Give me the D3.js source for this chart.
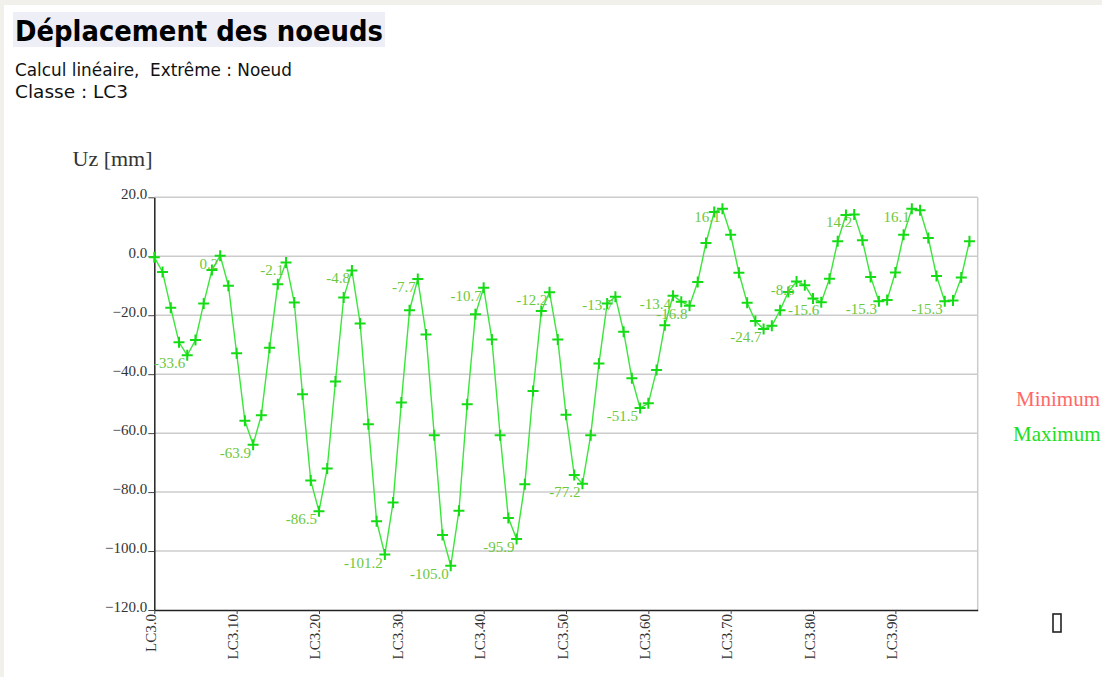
<!DOCTYPE html>
<html>
<head>
<meta charset="utf-8">
<script src="https://cdn.jsdelivr.net/npm/d3@7"></script>
<style>
  html, body { margin: 0; padding: 0; background: #f1f0ea; }
  svg { display: block; }
</style>
</head>
<body>
<svg id="chart" width="1102" height="677"></svg>
<script>
// Nodal displacement Uz [mm] per node of class LC3 (LC3.0 … LC3.99)
const nodeIndex = d3.range(100);
const uzMax = [
  -0.3, -5.3, -17.5, -29.2, -33.6, -28.4, -16.0, -4.7, 0.2, -10.0,
  -32.9, -55.8, -63.9, -53.9, -31.0, -9.5, -2.1, -15.7, -46.8, -76.1,
  -86.5, -72.0, -42.5, -14.0, -4.8, -22.8, -57.0, -89.9, -101.2, -83.5,
  -49.6, -18.3, -7.7, -26.5, -60.7, -94.6, -105.0, -86.3, -50.2, -19.7,
  -10.7, -28.2, -60.7, -88.8, -95.9, -77.3, -45.7, -18.6, -12.2, -28.2,
  -53.8, -74.2, -77.2, -60.7, -36.4, -16.0, -13.7, -25.6, -41.4, -51.5,
  -49.9, -38.6, -23.4, -13.4, -15.4, -16.8, -8.7, 4.5, 15.0, 16.1,
  7.3, -5.6, -15.8, -22.0, -24.7, -23.6, -18.3, -12.1, -8.6, -9.8,
  -14.3, -15.6, -7.6, 5.1, 14.0, 14.2, 5.4, -7.0, -15.3, -14.8,
  -5.5, 7.3, 16.1, 15.6, 6.2, -6.7, -15.3, -15.0, -7.2, 5.1
];
const yTicks = [20, 0, -20, -40, -60, -80, -100, -120];
const xTicks = d3.range(0, 100, 10);
const xTickLabel = i => "LC3." + i;
const legendItems = [
  { name: "Minimum", color: "#ff6868" },
  { name: "Maximum", color: "#22dd22" }
];

const svg = d3.select("#chart");
const serif = "'Liberation Serif', 'Times New Roman', serif";
const sans = "'DejaVu Sans Condensed', 'DejaVu Sans', Verdana, sans-serif";

// page panel
svg.append("rect").attr("x", 4).attr("y", 5).attr("width", 1098).attr("height", 672).attr("fill", "#ffffff");

// header
svg.append("rect").attr("x", 13).attr("y", 12).attr("width", 372).attr("height", 35).attr("fill", "#eeeef7");
svg.append("text").attr("x", 15).attr("y", 40.5)
  .attr("font-family", sans).attr("font-weight", "bold").attr("font-size", 29)
  .attr("textLength", 368).attr("lengthAdjust", "spacingAndGlyphs")
  .attr("fill", "#000").text("Déplacement des noeuds");
svg.append("text").attr("x", 15).attr("y", 75.5)
  .attr("font-family", sans).attr("font-size", 17.5)
  .style("white-space", "pre")
  .attr("textLength", 277).attr("lengthAdjust", "spacingAndGlyphs")
  .attr("fill", "#111").text("Calcul linéaire,  Extrême : Noeud");
svg.append("text").attr("x", 15).attr("y", 97.5)
  .attr("font-family", sans).attr("font-size", 17.5).style("white-space", "pre")
  .attr("textLength", 113).attr("lengthAdjust", "spacingAndGlyphs")
  .attr("fill", "#111").text("Classe : LC3");

// scales
const x = d3.scaleLinear().domain([0, 100]).range([154.3, 977.7]);
const y = d3.scaleLinear().domain([-120, 20]).range([610, 197.3]);

// grid
const grid = svg.append("g");
grid.selectAll("line").data(yTicks.filter(v => v > -120)).join("line")
  .attr("x1", x(0)).attr("x2", x(100))
  .attr("y1", d => y(d)).attr("y2", d => y(d))
  .attr("stroke", "#cccccc").attr("stroke-width", 1.5);
grid.append("line").attr("x1", x(100)).attr("x2", x(100))
  .attr("y1", y(20)).attr("y2", y(-120))
  .attr("stroke", "#cccccc").attr("stroke-width", 1.5);

// y axis
const yAxis = d3.axisLeft(y).tickValues(yTicks).tickSize(6).tickSizeOuter(0)
  .tickFormat(d3.format(".1f"));
const gy = svg.append("g").attr("transform", `translate(${x(0)},0)`).call(yAxis);
gy.select(".domain").attr("stroke", "#222").attr("stroke-width", 1.5);
gy.selectAll(".tick line").attr("stroke", "#444");
gy.selectAll(".tick text")
  .attr("font-family", serif).attr("font-size", 15).attr("fill", "#333")
  .attr("x", -7).attr("dy", 0).attr("y", 1);

// x axis
const xAxis = d3.axisBottom(x).tickValues(xTicks).tickSize(4).tickSizeOuter(0)
  .tickFormat(xTickLabel);
const gx = svg.append("g").attr("transform", `translate(0,${y(-120)})`).call(xAxis);
gx.select(".domain").attr("stroke", "#222").attr("stroke-width", 1.5);
gx.selectAll(".tick line").attr("stroke", "#444");
gx.selectAll(".tick text")
  .attr("font-family", serif).attr("font-size", 15).attr("fill", "#333")
  .attr("text-anchor", "end").attr("dy", 0).attr("y", 0)
  .attr("transform", "translate(1,4) rotate(-90)");

// axis title
svg.append("text").attr("x", 72.5).attr("y", 165.5)
  .attr("font-family", serif).attr("font-size", 22).attr("fill", "#333")
  .text("Uz [mm]");

// series line
const line = d3.line().x((d, i) => x(i)).y(d => y(d));
svg.append("path").datum(uzMax).attr("d", line)
  .attr("fill", "none").attr("stroke", "#3be63b").attr("stroke-width", 1.4);

// cross markers
const m = 5.5;
svg.append("g").selectAll("path").data(nodeIndex).join("path")
  .attr("d", i => `M${x(i) - m},${y(uzMax[i])}H${x(i) + m}M${x(i)},${y(uzMax[i]) - m}V${y(uzMax[i]) + m}`)
  .attr("stroke", "#14dc14").attr("stroke-width", 2).attr("fill", "none");

// value labels on local extremes
const extremes = nodeIndex.filter(i => i > 0 && i < uzMax.length - 1 &&
  ((uzMax[i] > uzMax[i - 1] && uzMax[i] > uzMax[i + 1]) ||
   (uzMax[i] < uzMax[i - 1] && uzMax[i] < uzMax[i + 1])));
svg.append("g").selectAll("text").data(extremes).join("text")
  .attr("x", i => x(i) - 2).attr("y", i => y(uzMax[i]) + 13)
  .attr("text-anchor", "end")
  .attr("font-family", serif).attr("font-size", 15).attr("fill", "#6cc83c")
  .text(i => uzMax[i].toFixed(1));

// legend
svg.append("g").selectAll("text").data(legendItems).join("text")
  .attr("x", (d, i) => i === 0 ? 1016 : 1013)
  .attr("y", (d, i) => 406 + i * 34.5)
  .attr("font-family", serif).attr("font-size", 21).attr("fill", d => d.color)
  .text(d => d.name);
svg.append("rect").attr("x", 1053).attr("y", 614).attr("width", 8).attr("height", 18)
  .attr("fill", "none").attr("stroke", "#222").attr("stroke-width", 1.6);
</script>
</body>
</html>
